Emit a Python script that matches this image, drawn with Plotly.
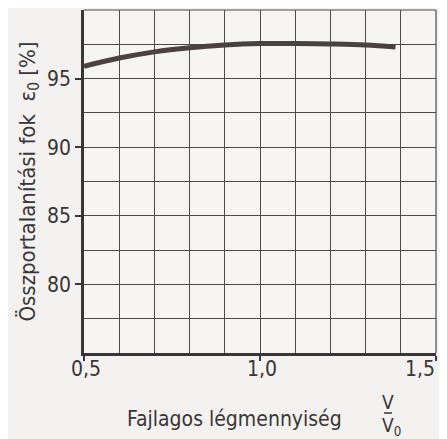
import plotly.graph_objects as go

# Data
air_ratio = [0.5, 0.6, 0.7, 0.8, 0.9, 1.0, 1.1, 1.2, 1.3, 1.385]
efficiency = [95.9, 96.5, 96.95, 97.25, 97.45, 97.55, 97.55, 97.52, 97.45, 97.3]
x_ticks = [0.5, 1.0, 1.5]
x_tick_labels = ["0,5", "1,0", "1,5"]
y_ticks = [80, 85, 90, 95]

FONT = "DejaVu Sans Condensed, DejaVu Sans, sans-serif"
INK = "#3a3536"
GRID = "#4d4a4b"

fig = go.Figure()
fig.add_trace(go.Scatter(
    x=air_ratio, y=efficiency, mode="lines",
    line=dict(color="#4b4042", width=5, shape="spline"),
    showlegend=False, hoverinfo="skip",
))

# page body has an 8px default margin; size the figure to fill the rest
fig.update_layout(
    width=439, height=431,
    margin=dict(l=76, r=11, t=2, b=86),
    paper_bgcolor="#f3f2f0",
    plot_bgcolor="#f6f5f3",
    separators=",.",
    font=dict(family=FONT, size=21, color=INK),
    xaxis=dict(
        range=[0.5, 1.5], tickvals=x_ticks, showticklabels=False,
        showgrid=True, gridcolor=GRID, gridwidth=1,
        minor=dict(dtick=0.1, showgrid=True, gridcolor=GRID, gridwidth=1, tick0=0.5),
        showline=True, linecolor=INK, linewidth=2.5,
        ticks="outside", ticklen=5, tickcolor=INK, tickwidth=2,
        zeroline=False, automargin=False,
    ),
    yaxis=dict(
        range=[75, 100], tickvals=y_ticks,
        showgrid=True, gridcolor=GRID, gridwidth=1,
        minor=dict(dtick=2.5, showgrid=True, gridcolor=GRID, gridwidth=1, tick0=75),
        showline=True, linecolor=INK, linewidth=2.5,
        ticks="outside", ticklen=6, tickcolor=INK, tickwidth=2,
        zeroline=False, tickfont=dict(size=21), automargin=False,
        ticklabeloverflow="allow",
        title=dict(text="Összportalanítási fok  ε<sub>0</sub> [%]",
                   font=dict(size=22), standoff=6),
    ),
)

# x tick labels (last one kept inside the page, as in the reference)
for i, (v, lab) in enumerate(zip(x_ticks, x_tick_labels)):
    last = i == len(x_ticks) - 1
    fig.add_annotation(text=lab, xref="x", yref="paper", x=v,
                       y=-(369 - 353) / 343, showarrow=False,
                       xanchor="right" if last else "center", yanchor="middle",
                       xshift=2 if not last else 1,
                       font=dict(size=21, color=INK))

# top and right frame lines (thin, like grid)
fig.add_shape(type="line", xref="paper", yref="paper", x0=0, x1=1, y0=1, y1=1,
              line=dict(color=GRID, width=1.2))
fig.add_shape(type="line", xref="paper", yref="paper", x0=1, x1=1, y0=0, y1=1,
              line=dict(color=GRID, width=1.2))

# x-axis title with fraction V / V0
fig.add_annotation(text="Fajlagos légmennyiség", xref="paper", yref="paper",
                   x=(234 - 84) / 352, y=-(419 - 353) / 343, showarrow=False,
                   font=dict(size=21, color=INK), xanchor="center", yanchor="middle")
fig.add_annotation(text="V", xref="paper", yref="paper",
                   x=(388 - 84) / 352, y=-(402 - 353) / 343, showarrow=False,
                   font=dict(size=19, color=INK), xanchor="center", yanchor="middle")
fig.add_shape(type="line", xref="paper", yref="paper",
              x0=(384 - 84) / 352, x1=(392 - 84) / 352,
              y0=-(413 - 353) / 343, y1=-(413 - 353) / 343,
              line=dict(color=INK, width=1.5))
fig.add_annotation(text="V<sub>0</sub>", xref="paper", yref="paper",
                   x=(391 - 84) / 352, y=-(426 - 353) / 343, showarrow=False,
                   font=dict(size=19, color=INK), xanchor="center", yanchor="middle")

fig.write_html("out.html")
